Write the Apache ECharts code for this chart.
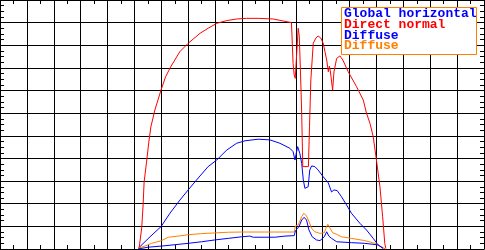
<!DOCTYPE html>
<html>
<head>
<meta charset="utf-8">
<script src="https://cdn.jsdelivr.net/npm/echarts@6/dist/echarts.min.js"></script>
<style>html,body{margin:0;padding:0;background:#fff;}#c{width:485px;height:250px;}</style>
</head>
<body>
<div id="c"></div>
<script>
// Axis ranges (hours of day, W/m^2)
var xMin = 3, xMax = 21, xStep = 1;
var yMin = 0, yMax = 1100, yStep = 100;

// Legend labels
var legendLabels = ['Global horizontal', 'Direct normal', 'Diffuse', 'Diffuse'];

// Global horizontal (blue)
var ghiHours = [8.14, 8.58, 8.99, 9.32, 9.69, 10.0, 10.31, 10.74, 11.06, 11.43, 11.8, 12.11, 12.6, 13.04, 13.41, 13.78, 13.9, 13.97, 14.02, 14.07, 14.15, 14.22, 14.28, 14.34, 14.4, 14.46, 14.52, 14.59, 14.71, 14.83, 15.02, 15.21, 15.33, 15.42, 15.54, 15.7, 15.89, 16.07, 16.38, 16.63, 16.88, 17.06, 17.25];
var ghiValues = [3, 54, 99, 158, 216, 261, 305, 364, 393, 437, 467, 478, 485, 482, 467, 445, 430, 393, 424, 452, 423, 379, 305, 268, 261, 275, 349, 367, 364, 349, 319, 292, 252, 261, 258, 231, 194, 158, 114, 84, 47, 18, 3];

// Direct normal (red)
var dniHours = [8.17, 8.27, 8.32, 8.36, 8.45, 8.54, 8.61, 8.76, 8.99, 9.16, 9.35, 9.69, 10.0, 10.44, 10.74, 11.06, 11.43, 11.8, 12.17, 12.6, 13.16, 13.84, 13.9, 13.94, 13.98, 14.02, 14.09, 14.13, 14.17, 14.22, 14.26, 14.47, 14.51, 14.56, 14.65, 14.75, 14.83, 14.93, 15.02, 15.15, 15.21, 15.25, 15.29, 15.37, 15.42, 15.52, 15.64, 15.75, 15.95, 16.26, 16.51, 16.63, 16.76, 16.88, 17.0, 17.13, 17.23, 17.31, 17.35];
var dniValues = [0, 93, 190, 296, 384, 477, 539, 614, 703, 761, 805, 872, 909, 953, 975, 997, 1009, 1016, 1019, 1019, 1016, 1000, 820, 769, 754, 835, 975, 940, 800, 600, 364, 364, 540, 747, 909, 932, 941, 932, 909, 835, 783, 808, 782, 702, 782, 842, 853, 835, 783, 717, 658, 600, 555, 496, 393, 275, 143, 25, 2];

// Diffuse (blue)
var difBHours = [8.14, 8.51, 9.01, 9.51, 10.0, 10.5, 10.99, 11.49, 11.99, 12.29, 12.42, 13.22, 13.6, 13.94, 13.99, 14.12, 14.22, 14.31, 14.4, 14.49, 14.61, 14.77, 14.9, 15.06, 15.15, 15.23, 15.33, 15.52, 16.07, 16.57, 17.06, 17.25];
var difBValues = [0, 8, 13, 19, 25, 32, 40, 47, 54, 57, 52, 52, 57, 59, 81, 99, 128, 140, 128, 84, 54, 40, 37, 54, 76, 57, 47, 32, 28, 25, 18, 3];

// Diffuse (orange)
var difOHours = [8.14, 8.39, 8.64, 9.01, 9.26, 9.63, 10.0, 10.5, 10.99, 11.49, 11.99, 12.85, 13.94, 13.99, 14.09, 14.22, 14.3, 14.4, 14.49, 14.59, 14.71, 14.9, 15.06, 15.12, 15.19, 15.28, 15.37, 15.52, 15.7, 16.07, 16.57, 16.94, 17.19, 17.33];
var difOValues = [3, 13, 25, 37, 52, 57, 63, 68, 71, 74, 75, 75, 75, 102, 106, 143, 158, 146, 121, 91, 76, 69, 72, 91, 109, 91, 72, 65, 54, 47, 37, 25, 10, 0];

function pairs(xs, ys) { return xs.map(function (x, i) { return [x, ys[i]]; }); }

var colors = { blue: '#0000ff', red: '#ff0000', orange: '#ff8000' };

function xAxisCfg(pos) {
  return {
    type: 'value', position: pos, min: xMin, max: xMax, interval: xStep,
    axisLine: { show: true, onZero: false, lineStyle: { color: '#000', width: 1 } },
    axisTick: { show: false, inside: true },
    minorTick: { show: true, inside: true, splitNumber: 2, length: 4, lineStyle: { color: '#000', width: 1 } },
    axisLabel: { show: false },
    splitLine: { show: pos === 'bottom', lineStyle: { color: '#000', width: 1 } },
    minorSplitLine: { show: false }
  };
}
function yAxisCfg(pos) {
  return {
    type: 'value', position: pos, min: yMin, max: yMax, interval: yStep,
    axisLine: { show: true, onZero: false, lineStyle: { color: '#000', width: 1 } },
    axisTick: { show: false, inside: true },
    minorTick: { show: true, inside: true, splitNumber: 4, length: 4, lineStyle: { color: '#000', width: 1 } },
    axisLabel: { show: false },
    splitLine: { show: pos === 'left', lineStyle: { color: '#000', width: 1 } },
    minorSplitLine: { show: false }
  };
}

function lineSeries(data, color) {
  return {
    type: 'line', data: data, showSymbol: false, symbol: 'none', smooth: false,
    lineStyle: { color: color, width: 1 }, itemStyle: { color: color },
    animation: false, silent: true, xAxisIndex: 0, yAxisIndex: 0
  };
}

var chart = echarts.init(document.getElementById('c'), null, { renderer: 'canvas' });

var legendFont = 'bold 13px "Liberation Mono", monospace';
var legendColors = [colors.blue, colors.red, colors.blue, colors.orange];
var legendY = [14, 24.7, 35.4, 46.1];
var graphics = [{
  type: 'rect', z: 100, silent: true,
  shape: { x: 341.5, y: 7.5, width: 135, height: 47 },
  style: { fill: '#fff', stroke: colors.orange, lineWidth: 1 }
}];
legendLabels.forEach(function (t, i) {
  graphics.push({
    type: 'text', z: 101, silent: true, x: 344, y: legendY[i],
    style: { text: t, fill: legendColors[i], font: legendFont, verticalAlign: 'middle', align: 'left' }
  });
});

chart.setOption({
  animation: false,
  backgroundColor: '#fff',
  grid: { left: 0, right: 1, top: 0, bottom: 1, containLabel: false },
  xAxis: [xAxisCfg('bottom'), xAxisCfg('top')],
  yAxis: [yAxisCfg('left'), yAxisCfg('right')],
  series: [
    lineSeries(pairs(ghiHours, ghiValues), colors.blue),
    lineSeries(pairs(dniHours, dniValues), colors.red),
    lineSeries(pairs(difOHours, difOValues), colors.orange),
    lineSeries(pairs(difBHours, difBValues), colors.blue)
  ],
  graphic: graphics
});
</script>
</body>
</html>
